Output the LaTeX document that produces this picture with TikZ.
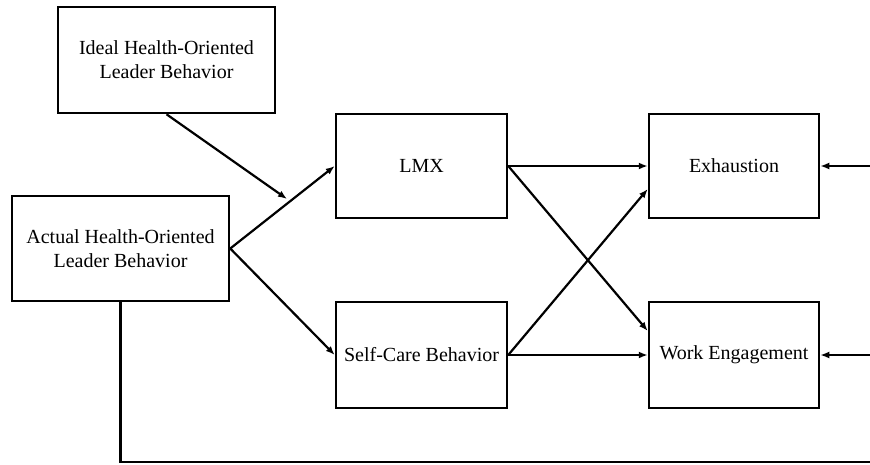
\documentclass[tikz,border=0pt]{standalone}
\usepackage{fontspec}
\setmainfont{Liberation Serif}
\usetikzlibrary{arrows.meta}
\begin{document}
\begin{tikzpicture}[x=1pt,y=-1pt,
  box/.style={draw=black,line width=2.5pt,fill=white,inner sep=0pt,align=center,
    font=\fontsize{20}{24}\selectfont},
  arr/.style={line width=2.2pt,-{Latex[length=9pt,width=7pt]}},
  plain/.style={line width=2.5pt}]
\useasboundingbox (0,0) rectangle (870,464);
\node[box,minimum width=217pt,minimum height=106pt] (ideal) at (166.5,60) {Ideal Health-Oriented\\Leader Behavior};
\node[box,minimum width=217pt,minimum height=105pt] (actual) at (120.5,248.5) {Actual Health-Oriented\\Leader Behavior};
\node[box,minimum width=171pt,minimum height=104pt] (lmx) at (421.5,166) {LMX};
\node[box,minimum width=171pt,minimum height=106pt] (self) at (421.5,355) {Self-Care Behavior};
\node[box,minimum width=170pt,minimum height=104pt] (exh) at (734,166) {Exhaustion};
\node[box,minimum width=170pt,minimum height=106pt] (we) at (734,355) {Work Engagement};
\coordinate (mod) at (287,199);
\coordinate (rin1) at (871,166);
\coordinate (rin2) at (871,355);
\coordinate (bend) at (871,462);
\draw[arr] (actual.east) -- (lmx.west);
\draw[arr] (actual.east) -- (self.west);
\draw[arr] (ideal.south) -- (mod);
\draw[arr] (lmx.east) -- (exh.west);
\draw[arr] (lmx.east) -- ([yshift=24pt]we.west);
\draw[arr] (self.east) -- ([yshift=-23pt]exh.west);
\draw[arr] (self.east) -- (we.west);
\draw[arr] (rin1) -- (exh.east);
\draw[arr] (rin2) -- (we.east);
\draw[plain] (actual.south) |- (bend);
\end{tikzpicture}
\end{document}
